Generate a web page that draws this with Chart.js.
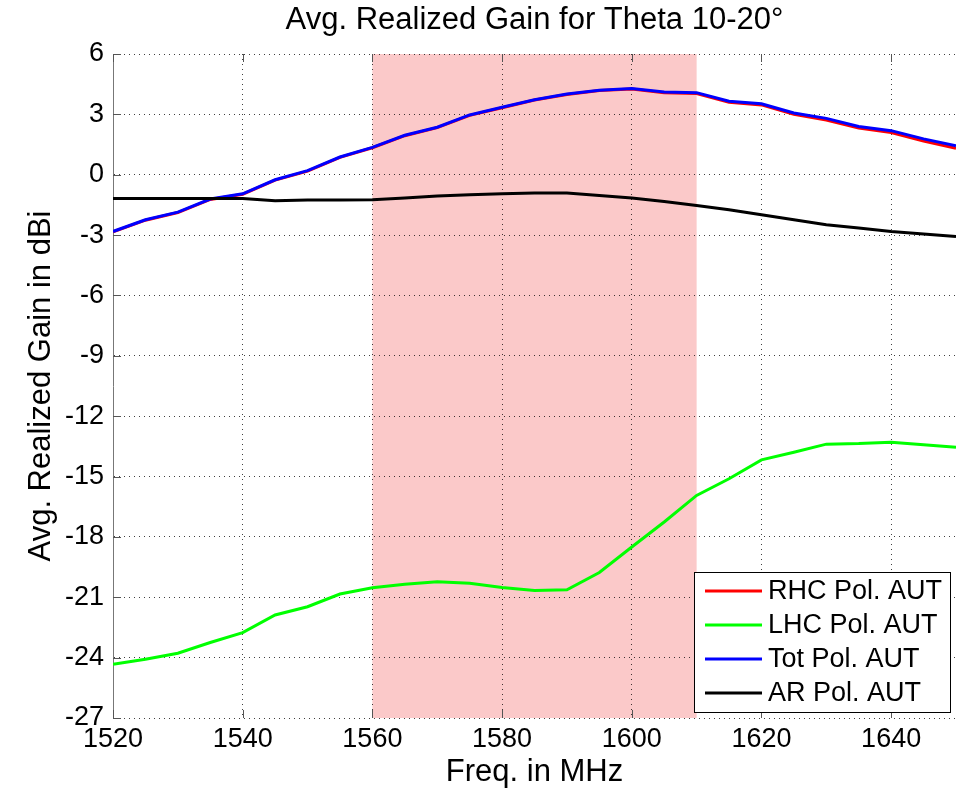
<!DOCTYPE html>
<html>
<head>
<meta charset="utf-8">
<script src="https://cdn.jsdelivr.net/npm/chart.js@4"></script>
<style>
  html, body { margin:0; padding:0; background:#fff; }
  #wrap { width:958px; height:791px; }
</style>
</head>
<body>
<div id="wrap"><canvas id="c" width="958" height="791"></canvas></div>
<script>
// values
const freqs = [1520,1525,1530,1535,1540,1545,1550,1555,1560,1565,1570,1575,1580,1585,1590,1595,1600,1605,1610,1615,1620,1625,1630,1635,1640,1645,1650];
const rhcGain = [-2.84,-2.26,-1.88,-1.23,-0.97,-0.27,0.18,0.86,1.34,1.94,2.34,2.95,3.33,3.71,3.99,4.18,4.26,4.08,4.04,3.6,3.47,3.0,2.72,2.32,2.1,1.68,1.32];
const lhcGain = [-24.33,-24.08,-23.78,-23.25,-22.76,-21.88,-21.47,-20.84,-20.53,-20.35,-20.23,-20.3,-20.51,-20.66,-20.63,-19.77,-18.5,-17.26,-15.94,-15.11,-14.17,-13.79,-13.39,-13.36,-13.29,-13.42,-13.54];
const totGain = [-2.82,-2.24,-1.86,-1.21,-0.95,-0.25,0.2,0.88,1.36,1.96,2.36,2.97,3.35,3.73,4.01,4.2,4.28,4.11,4.08,3.65,3.53,3.07,2.8,2.4,2.19,1.78,1.44];
const arGain = [-1.18,-1.18,-1.18,-1.18,-1.18,-1.29,-1.25,-1.25,-1.24,-1.16,-1.06,-1.0,-0.95,-0.91,-0.91,-1.03,-1.16,-1.33,-1.53,-1.74,-1.99,-2.24,-2.49,-2.65,-2.82,-2.94,-3.07];
const band = [1560, 1610];
const xTicks = [1520,1540,1560,1580,1600,1620,1640];
const yTicks = [-27,-24,-21,-18,-15,-12,-9,-6,-3,0,3,6];

const FONT = 'Liberation Sans, Arial, sans-serif';
const pts = arr => freqs.map((f, i) => ({ x: f, y: arr[i] }));

const series = [
  { label: 'RHC Pol. AUT', data: pts(rhcGain), borderColor: '#ff0000', order: 4 },
  { label: 'LHC Pol. AUT', data: pts(lhcGain), borderColor: '#00ff00', order: 3 },
  { label: 'Tot Pol. AUT', data: pts(totGain), borderColor: '#0000ff', order: 2 },
  { label: 'AR Pol. AUT',  data: pts(arGain),  borderColor: '#000000', order: 1 }
].map(d => Object.assign(d, { borderWidth: 3, pointRadius: 0, tension: 0, fill: false }));

const bandPlugin = {
  id: 'band',
  beforeDraw(chart) {
    const { ctx, chartArea: a, scales: { x } } = chart;
    const x0 = x.getPixelForValue(band[0]), x1 = x.getPixelForValue(band[1]);
    ctx.save();
    ctx.fillStyle = '#fbc9c9';
    ctx.fillRect(x0, a.top, x1 - x0, a.bottom - a.top);
    ctx.restore();
  }
};

// matlab style inward tick marks
const tickPlugin = {
  id: 'inTicks',
  beforeDatasetsDraw(chart) {
    const { ctx, chartArea: a, scales: { x, y } } = chart;
    ctx.save();
    ctx.strokeStyle = '#555';
    ctx.lineWidth = 1;
    ctx.beginPath();
    xTicks.forEach(v => {
      const px = Math.round(x.getPixelForValue(v)) + 0.5;
      ctx.moveTo(px, a.bottom); ctx.lineTo(px, a.bottom - 8);
      ctx.moveTo(px, a.top); ctx.lineTo(px, a.top + 8);
    });
    yTicks.forEach(v => {
      const py = Math.round(y.getPixelForValue(v)) + 0.5;
      ctx.moveTo(a.left, py); ctx.lineTo(a.left + 8, py);
    });
    ctx.stroke();
    ctx.restore();
  }
};

const decorPlugin = {
  id: 'decor',
  afterDraw(chart) {
    const { ctx, chartArea: a } = chart;
    ctx.save();
    // title
    ctx.fillStyle = '#000';
    ctx.font = '31px ' + FONT;
    ctx.textAlign = 'center';
    ctx.textBaseline = 'middle';
    ctx.fillText('Avg. Realized Gain for Theta 10-20°', (a.left + a.right) / 2, 20);
    // legend
    const bx = 694, by = 572, bw = 256, bh = 140;
    ctx.fillStyle = '#fff';
    ctx.fillRect(bx, by, bw, bh);
    ctx.strokeStyle = '#000';
    ctx.lineWidth = 1;
    ctx.strokeRect(bx + 0.5, by + 0.5, bw, bh);
    ctx.font = '27px ' + FONT;
    ctx.textAlign = 'left';
    chart.data.datasets.forEach((ds, i) => {
      const yy = 591 + i * 34;
      ctx.strokeStyle = ds.borderColor;
      ctx.lineWidth = 3;
      ctx.beginPath();
      ctx.moveTo(705, yy);
      ctx.lineTo(762, yy);
      ctx.stroke();
      ctx.fillStyle = '#000';
      ctx.fillText(ds.label, 768, yy + 1);
    });
    ctx.restore();
  }
};

new Chart(document.getElementById('c'), {
  type: 'line',
  data: { datasets: series },
  plugins: [bandPlugin, tickPlugin, decorPlugin],
  options: {
    responsive: false,
    animation: false,
    layout: { padding: { top: 54, right: 2, left: 0, bottom: 0 } },
    plugins: { legend: { display: false }, tooltip: { enabled: false } },
    scales: {
      x: {
        type: 'linear', min: 1520, max: 1650,
        afterBuildTicks: s => { s.ticks = xTicks.map(v => ({ value: v })); },
        afterFit: s => { s.height = 73; },
        ticks: { color: '#000', font: { family: FONT, size: 27 }, padding: 5, maxRotation: 0, callback: v => String(v) },
        grid: { color: 'rgba(0,0,0,0.75)', drawTicks: false, lineWidth: 1 },
        border: { display: false, dash: [1, 4] },
        title: { display: true, text: 'Freq. in MHz', color: '#000', font: { family: FONT, size: 31 }, padding: { top: 0, bottom: 0 } }
      },
      y: {
        type: 'linear', min: -27, max: 6,
        afterBuildTicks: s => { s.ticks = yTicks.map(v => ({ value: v })); },
        afterFit: s => { s.width = 113; },
        ticks: { color: '#000', font: { family: FONT, size: 27 }, padding: 9, callback: v => String(v) },
        grid: { color: 'rgba(0,0,0,0.75)', drawTicks: false, lineWidth: 1 },
        border: { display: true, color: '#777', width: 1, dash: [1, 4] },
        title: { display: true, text: 'Avg. Realized Gain in dBi', color: '#000', font: { family: FONT, size: 31 }, padding: { top: 23, bottom: 0 } }
      }
    }
  }
});
</script>
</body>
</html>
